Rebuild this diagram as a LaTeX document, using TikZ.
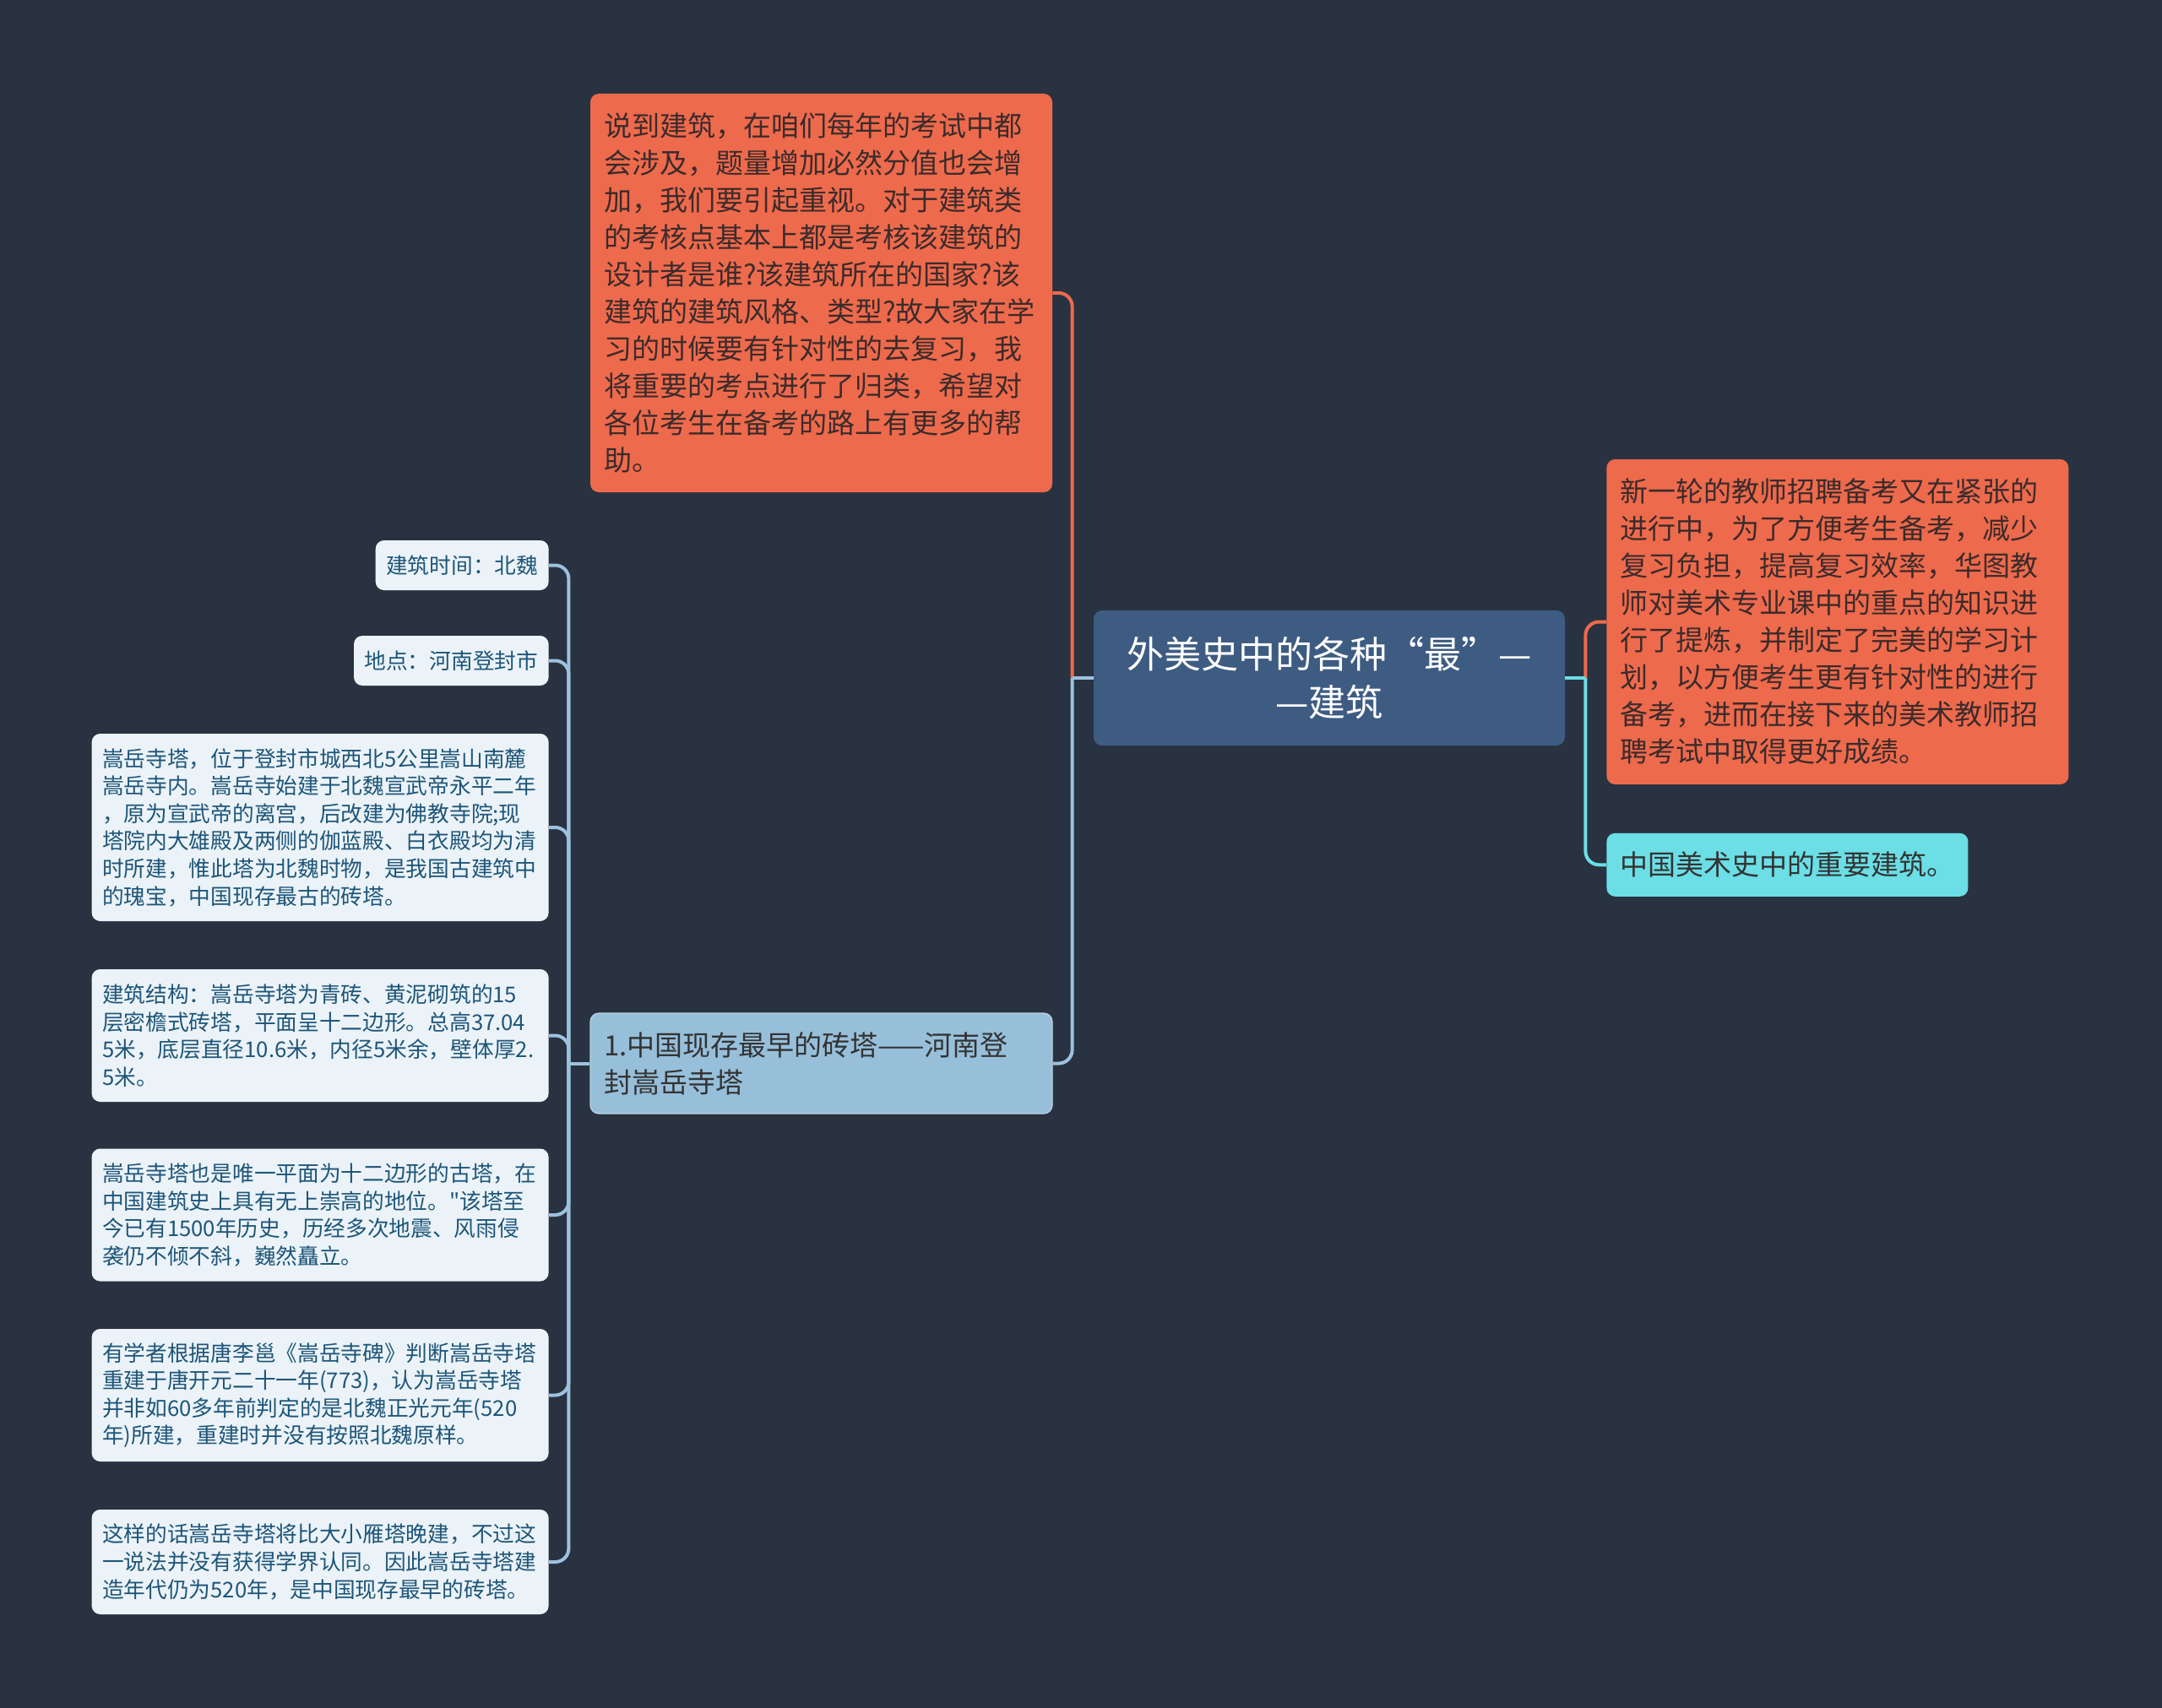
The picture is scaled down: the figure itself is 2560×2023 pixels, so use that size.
\documentclass[tikz,border=0pt]{standalone}
\usepackage{fontspec}
\setmainfont{Noto Sans CJK SC}
\newfontfamily\cjkfont{Noto Sans CJK SC}
\usetikzlibrary{positioning, calc}

\definecolor{bgnavy}{HTML}{293240}
\definecolor{rootblue}{HTML}{3E5C82}
\definecolor{notered}{HTML}{EE6A4C}
\definecolor{notetext}{HTML}{3B2B2B}
\definecolor{tipcyan}{HTML}{6BDEE6}
\definecolor{towerblue}{HTML}{97BFDA}
\definecolor{leafwhite}{HTML}{EBF3F8}
\definecolor{leaftext}{HTML}{1E5578}
\definecolor{lineblue}{HTML}{9CC2DD}

\begin{document}
\begin{tikzpicture}[
    x=0.5pt, y=-0.5pt,
    % Node styles
    root/.style={
        rectangle, rounded corners=5pt,
        minimum width=279pt, minimum height=80pt,
        align=center, inner sep=4pt,
        font=\cjkfont\fontsize{22pt}{28.5pt}\selectfont,
        fill=rootblue, text=white,
    },
    note/.style={
        rectangle, rounded corners=5pt,
        text width=257.5pt, inner xsep=8pt, inner ysep=4pt,
        align=left, font=\cjkfont\fontsize{16.5pt}{22pt}\selectfont,
        fill=#1, text=notetext,
    },
    note/.default=notered,
    tip/.style={
        rectangle, rounded corners=5pt,
        inner xsep=8pt, minimum height=37.5pt,
        font=\cjkfont\fontsize{16.5pt}{22pt}\selectfont,
        fill=tipcyan, text=black!80,
    },
    leaf/.style={
        rectangle, rounded corners=5pt,
        inner xsep=6.25pt, inner ysep=3pt, minimum height=29.5pt,
        align=left, font=\cjkfont\fontsize{12.85pt}{16.3pt}\selectfont,
        fill=leafwhite, text=leaftext,
    },
    wideleaf/.style={leaf, text width=258pt},
    branch/.style={
        draw=#1, line width=2pt, rounded corners=8pt,
    },
    branch/.default=lineblue,
]

% === Background ===
\fill[bgnavy] (0,0) rectangle (2560,2023);

% === Root ===
\node[root] (root) at (1574,803) {外美史中的各种“最”—\\—建筑};

% === Left: intro note and first topic ===
\node[note, minimum height=236pt] (intro) at (972.5,347)
    {说到建筑，在咱们每年的考试中都\\
     会涉及，题量增加必然分值也会增\\
     加，我们要引起重视。对于建筑类\\
     的考核点基本上都是考核该建筑的\\
     设计者是谁?该建筑所在的国家?该\\
     建筑的建筑风格、类型?故大家在学\\
     习的时候要有针对性的去复习，我\\
     将重要的考点进行了归类，希望对\\
     各位考生在备考的路上有更多的帮\\
     助。};
\node[note=towerblue, draw=towerblue!70!white, line width=0.6pt,
      minimum height=59.5pt, text=black!80] (tower) at (972.5,1259.5)
    {1.中国现存最早的砖塔——河南登\\封嵩岳寺塔};

% === Right: exam note and tip ===
\node[note, minimum height=192.5pt, anchor=west] (exam) at (1902,736.5)
    {新一轮的教师招聘备考又在紧张的\\
     进行中，为了方便考生备考，减少\\
     复习负担，提高复习效率，华图教\\
     师对美术专业课中的重点的知识进\\
     行了提炼，并制定了完美的学习计\\
     划，以方便考生更有针对性的进行\\
     备考，进而在接下来的美术教师招\\
     聘考试中取得更好成绩。};
\node[tip, below=28.5pt of exam.south west, anchor=north west] (tip)
    {中国美术史中的重要建筑。};

% === Leaves of the first topic ===
\node[leaf, anchor=east] (time) at (650,669.5) {建筑时间：北魏};
\node[leaf, anchor=east] (place) at (650,782.5) {地点：河南登封市};
\node[wideleaf, minimum height=111pt, anchor=east] (site) at (650,980)
    {嵩岳寺塔，位于登封市城西北5公里嵩山南麓\\
     嵩岳寺内。嵩岳寺始建于北魏宣武帝永平二年\\
     ，原为宣武帝的离宫，后改建为佛教寺院;现\\
     塔院内大雄殿及两侧的伽蓝殿、白衣殿均为清\\
     时所建，惟此塔为北魏时物，是我国古建筑中\\
     的瑰宝，中国现存最古的砖塔。};
\node[wideleaf, minimum height=78.5pt, anchor=east] (struct) at (650,1226.5)
    {建筑结构：嵩岳寺塔为青砖、黄泥砌筑的15\\
     层密檐式砖塔，平面呈十二边形。总高37.04\\
     5米，底层直径10.6米，内径5米余，壁体厚2.\\
     5米。};
\node[wideleaf, minimum height=78.5pt, anchor=east] (unique) at (650,1439)
    {嵩岳寺塔也是唯一平面为十二边形的古塔，在\\
     中国建筑史上具有无上崇高的地位。"该塔至\\
     今已有1500年历史，历经多次地震、风雨侵\\
     袭仍不倾不斜，巍然矗立。};
\node[wideleaf, minimum height=78.5pt, anchor=east] (rebuilt) at (650,1652.5)
    {有学者根据唐李邕《嵩岳寺碑》判断嵩岳寺塔\\
     重建于唐开元二十一年(773)，认为嵩岳寺塔\\
     并非如60多年前判定的是北魏正光元年(520\\
     年)所建，重建时并没有按照北魏原样。};
\node[wideleaf, minimum height=62pt, anchor=east] (dating) at (650,1850)
    {这样的话嵩岳寺塔将比大小雁塔晚建，不过这\\
     一说法并没有获得学界认同。因此嵩岳寺塔建\\
     造年代仍为520年，是中国现存最早的砖塔。};

% === Bus points ===
\coordinate (lbus) at ($(root.west)+(-25,0)$);
\coordinate (rbus) at ($(root.east)+(24,0)$);
\coordinate (tbus) at ($(tower.west)+(-25,0)$);

% === Edges: root to children ===
\draw[branch=notered] (lbus) |- (intro.east);
\draw[branch] (lbus) |- (tower.east);
\draw[branch] (root.west) -- (lbus);
\draw[branch=notered] (rbus) |- (exam.west);
\draw[branch=tipcyan] (rbus) |- (tip.west);
\draw[branch=tipcyan] (root.east) -- (rbus);

% === Edges: first topic to leaves ===
\draw[branch] (tower.west) -- (tbus);
\draw[branch] (tbus) |- (time.east);
\draw[branch] (tbus) |- (place.east);
\draw[branch] (tbus) |- (site.east);
\draw[branch] (tbus) |- (struct.east);
\draw[branch] (tbus) |- (unique.east);
\draw[branch] (tbus) |- (rebuilt.east);
\draw[branch] (tbus) |- (dating.east);

\end{tikzpicture}
\end{document}
